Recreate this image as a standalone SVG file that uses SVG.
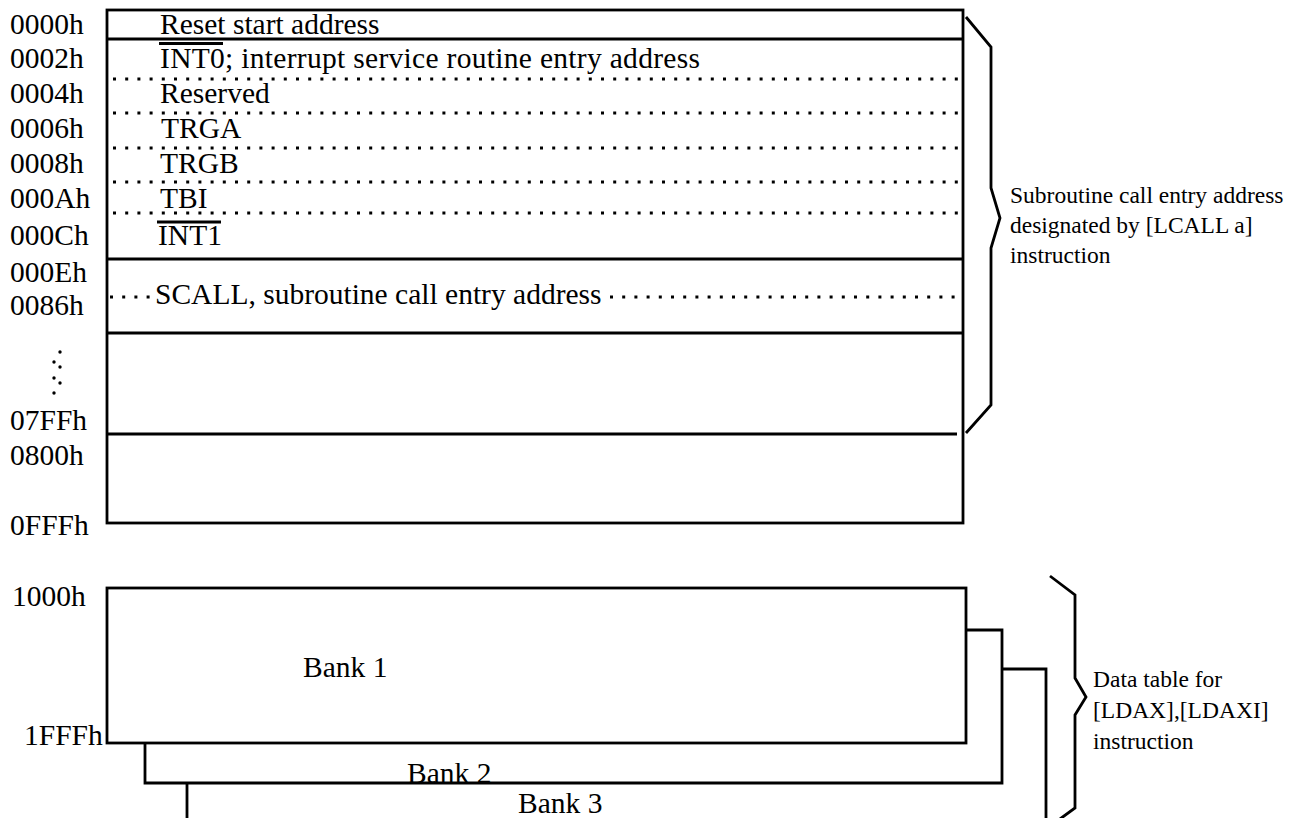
<svg xmlns="http://www.w3.org/2000/svg" width="1301" height="818" viewBox="0 0 1301 818">
<style>
.t{font-family:"Liberation Serif","Times New Roman",serif;font-size:29.5px;fill:#000}
.s{font-family:"Liberation Serif","Times New Roman",serif;font-size:23.5px;fill:#000}
.ln{stroke:#000;stroke-width:2.8;fill:none}
.dot{stroke:#000;stroke-width:3;stroke-dasharray:3 9.2;fill:none}
.ov{stroke:#000;stroke-width:2.8}
</style>
<rect width="1301" height="818" fill="#fff"/>
<g id="address-labels">
<text class="t" x="10" y="34">0000h</text>
<text class="t" x="10" y="68">0002h</text>
<text class="t" x="10" y="103">0004h</text>
<text class="t" x="10" y="138">0006h</text>
<text class="t" x="10" y="173">0008h</text>
<text class="t" x="10" y="208">000Ah</text>
<text class="t" x="10" y="245">000Ch</text>
<text class="t" x="10" y="282">000Eh</text>
<text class="t" x="10" y="315">0086h</text>
<text class="t" x="10" y="430">07FFh</text>
<text class="t" x="10" y="465">0800h</text>
<text class="t" x="10" y="535">0FFFh</text>
<text class="t" x="12" y="606">1000h</text>
<text class="t" x="24" y="745">1FFFh</text>
<g id="ellipsis">
<circle cx="60" cy="352" r="1.7"/><circle cx="54" cy="362" r="1.7"/><circle cx="60" cy="367" r="1.7"/>
<circle cx="54" cy="378" r="1.7"/><circle cx="60" cy="383" r="1.7"/><circle cx="54" cy="393" r="1.7"/>
</g>
</g>
<g id="program-memory">
<rect class="ln" x="107" y="10" width="856" height="513"/>
<line class="ln" x1="107" y1="39" x2="963" y2="39"/>
<line class="dot" x1="113" y1="79" x2="963" y2="79"/>
<line class="dot" x1="113" y1="113" x2="960" y2="113"/>
<line class="dot" x1="113" y1="148" x2="963" y2="148"/>
<line class="dot" x1="113" y1="182" x2="963" y2="182"/>
<line class="dot" x1="113" y1="213" x2="963" y2="213"/>
<line class="ln" x1="107" y1="259" x2="963" y2="259"/>
<line class="dot" x1="110" y1="297" x2="150" y2="297"/>
<line class="dot" x1="610" y1="297" x2="963" y2="297"/>
<line class="ln" x1="107" y1="333" x2="963" y2="333"/>
<line class="ln" x1="107" y1="434" x2="957" y2="434"/>
<text class="t" x="160" y="34">Reset start address</text>
<text class="t" x="160" y="68" textLength="540" lengthAdjust="spacing">INT0; interrupt service routine entry address</text>
<line class="ov" x1="159" y1="43.5" x2="223" y2="43.5"/>
<text class="t" x="160" y="103">Reserved</text>
<text class="t" x="161" y="138">TRGA</text>
<text class="t" x="160" y="173">TRGB</text>
<text class="t" x="160" y="208">TBI</text>
<text class="t" x="158" y="245">INT1</text>
<line class="ov" x1="157" y1="222" x2="221" y2="222"/>
<text class="t" x="155" y="304">SCALL, subroutine call entry address</text>
</g>
<g id="bank1">
<rect class="ln" x="107" y="588" width="859" height="155"/>
<text class="t" x="303" y="677">Bank 1</text>
</g>
<g id="bank2">
<path class="ln" d="M966 630 H1002 V783 H145 V743"/>
<text class="t" x="407" y="783">Bank 2</text>
</g>
<g id="bank3">
<path class="ln" d="M1002 669 H1046 V820 M187 783 V820"/>
<text class="t" x="518" y="813">Bank 3</text>
</g>
<g id="connectors">
<path class="ln" d="M966 17 L991 47 V188 L1000 218 L991 248 V405 L966 433"/>
<path class="ln" d="M1050 576 L1075 595 V678 L1086 697 L1075 715 V808 L1060 819"/>
</g>
<g id="annotations">
<text class="s" x="1010" y="203">Subroutine call entry address</text>
<text class="s" x="1010" y="233">designated by [LCALL a]</text>
<text class="s" x="1010" y="263">instruction</text>
<text class="s" x="1093" y="687">Data table for</text>
<text class="s" x="1093" y="718">[LDAX],[LDAXI]</text>
<text class="s" x="1093" y="749">instruction</text>
</g>
</svg>
